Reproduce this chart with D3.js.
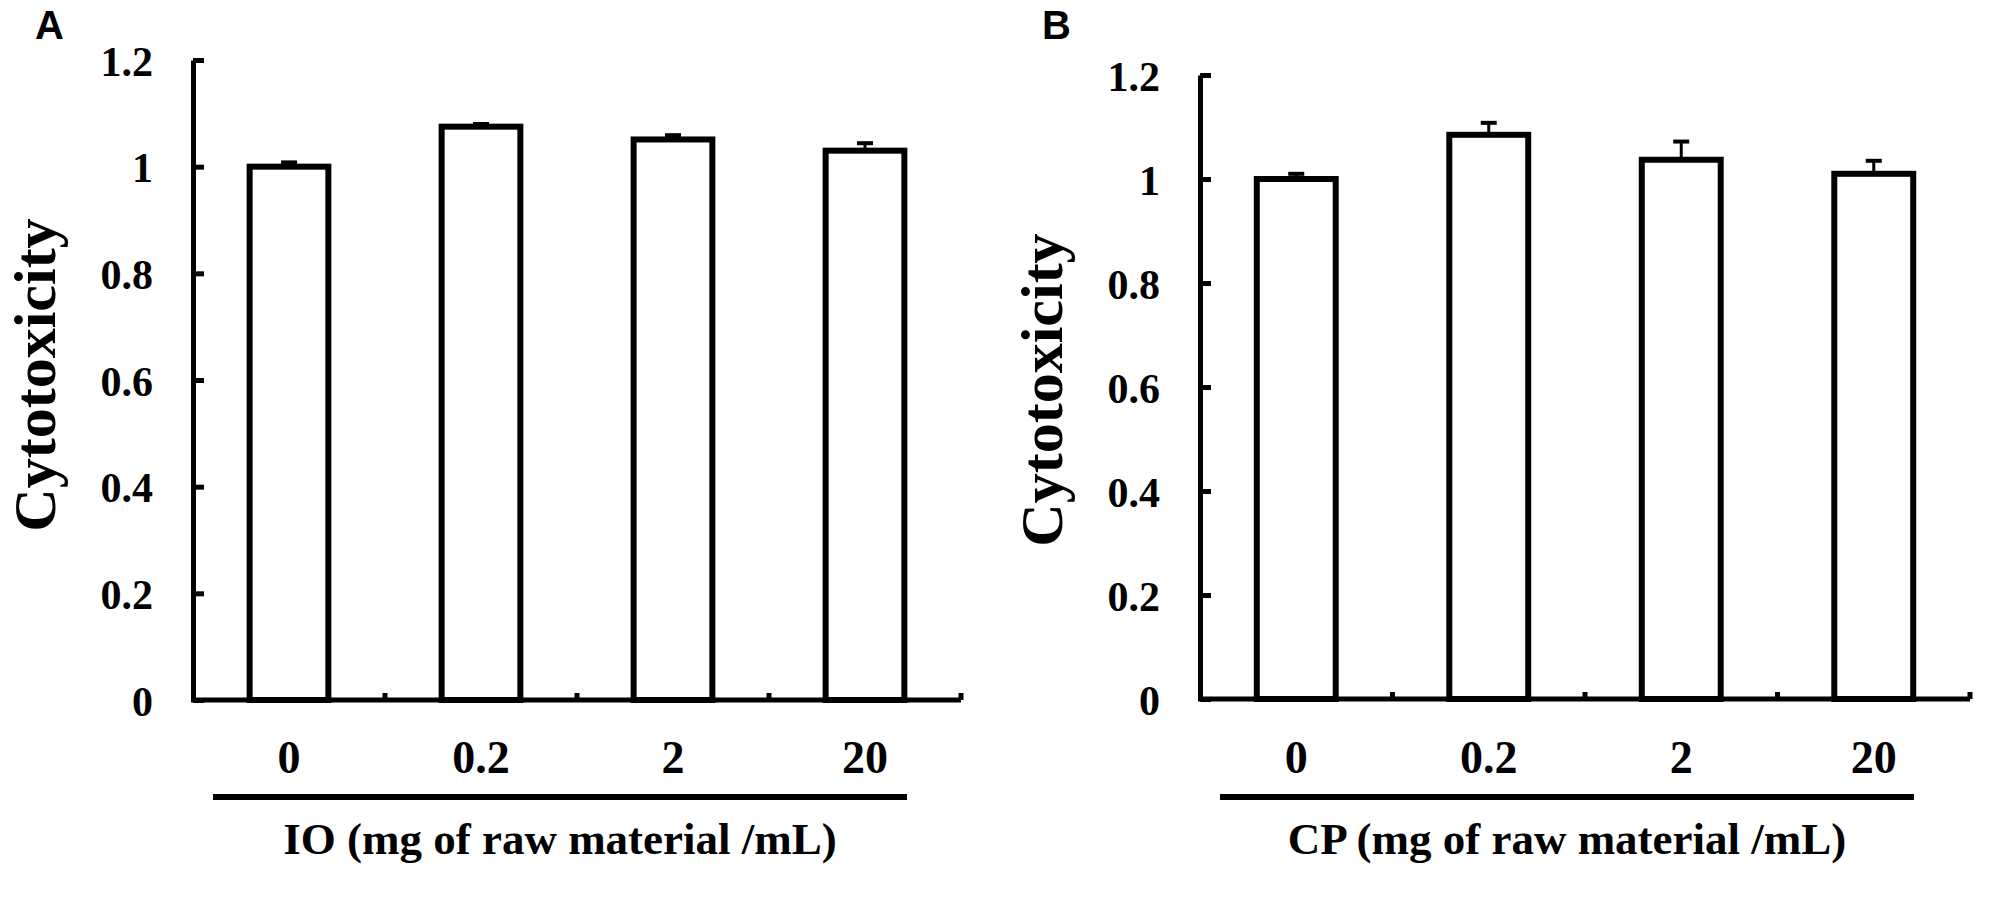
<!DOCTYPE html>
<html>
<head>
<meta charset="utf-8">
<script src="https://cdn.jsdelivr.net/npm/d3@7"></script>
<style>
  body { margin: 0; background: #fff; }
  text { font-family: "Liberation Serif", "Times New Roman", serif; font-weight: bold; fill: #000; }
</style>
</head>
<body>
<svg id="fig" width="1991" height="897"></svg>
<script>
// values
var doses = ["0", "0.2", "2", "20"];
var ioMeans = [1.0, 1.075, 1.051, 1.030];
var ioErr = [0.008, 0.005, 0.008, 0.014];
var cpMeans = [1.0, 1.085, 1.037, 1.010];
var cpErr = [0.010, 0.023, 0.035, 0.025];
var yTicks = [0, 0.2, 0.4, 0.6, 0.8, 1, 1.2];

var svg = d3.select("#fig");

// one panel = one bar chart, placed by its axis corner
function drawPanel(letter, means, errs, title, box) {
    var x = d3.scaleBand().domain(doses)
        .range([box.x0, box.x1]).paddingInner(0.59).paddingOuter(0.295);
    var y = d3.scaleLinear().domain([0, 1.2]).range([box.y0, box.yTop]);
    var rows = doses.map(function(d, i) { return {dose: d, m: means[i], e: errs[i]}; });
    var g = svg.append("g");

    g.append("text").attr("x", box.x0 - 158).attr("y", 39)
        .style("font-family", "'Liberation Sans', Arial, sans-serif")
        .style("font-size", "40px").text(letter);

    // bars
    g.selectAll("rect.bar").data(rows).enter().append("rect")
        .attr("class", "bar")
        .attr("x", function(d) { return x(d.dose); })
        .attr("y", function(d) { return y(d.m); })
        .attr("width", x.bandwidth())
        .attr("height", function(d) { return y(0) - y(d.m); })
        .style("fill", "#fff").style("stroke", "#000").style("stroke-width", 6);

    // error bars, upper half only
    var eb = g.selectAll("g.err").data(rows).enter().append("g").attr("class", "err");
    eb.append("line")
        .attr("x1", function(d) { return x(d.dose) + x.bandwidth() / 2; })
        .attr("x2", function(d) { return x(d.dose) + x.bandwidth() / 2; })
        .attr("y1", function(d) { return y(d.m); })
        .attr("y2", function(d) { return y(d.m + d.e); })
        .style("stroke", "#000").style("stroke-width", 3);
    eb.append("line")
        .attr("x1", function(d) { return x(d.dose) + x.bandwidth() / 2 - 8; })
        .attr("x2", function(d) { return x(d.dose) + x.bandwidth() / 2 + 8; })
        .attr("y1", function(d) { return y(d.m + d.e); })
        .attr("y2", function(d) { return y(d.m + d.e); })
        .style("stroke", "#000").style("stroke-width", 4);

    // y axis, ticks pointing in
    var ya = g.append("g").attr("transform", "translate(" + box.x0 + ",0)")
        .call(d3.axisLeft(y).tickValues(yTicks).tickSize(-11).tickSizeOuter(0)
            .tickPadding(40).tickFormat(function(d) { return String(d); }));
    ya.select(".domain").style("stroke-width", 5);
    ya.selectAll(".tick line").style("stroke-width", 5);
    ya.selectAll(".tick text").style("font-size", "42px")
        .style("font-family", "'Liberation Serif', 'Times New Roman', serif")
        .attr("dy", "0.36em");

    // x axis: line with small ticks between categories
    g.append("line").attr("x1", box.x0 - 2).attr("x2", box.x1)
        .attr("y1", y(0)).attr("y2", y(0))
        .style("stroke", "#000").style("stroke-width", 5);
    g.selectAll("line.xt").data(doses).enter().append("line")
        .attr("class", "xt")
        .attr("x1", function(d) { return x(d) + x.bandwidth() + (x.step() - x.bandwidth()) / 2; })
        .attr("x2", function(d) { return x(d) + x.bandwidth() + (x.step() - x.bandwidth()) / 2; })
        .attr("y1", y(0)).attr("y2", y(0) - 7)
        .style("stroke", "#000").style("stroke-width", 5);

    g.selectAll("text.dose").data(doses).enter().append("text")
        .attr("class", "dose")
        .attr("x", function(d) { return x(d) + x.bandwidth() / 2; })
        .attr("y", 773).attr("text-anchor", "middle")
        .style("font-size", "46px").text(function(d) { return d; });

    var mid = box.x0 + 367;
    g.append("line").attr("x1", mid - 347).attr("x2", mid + 347)
        .attr("y1", 797).attr("y2", 797)
        .style("stroke", "#000").style("stroke-width", 6);
    g.append("text").attr("x", mid).attr("y", 854).attr("text-anchor", "middle")
        .style("font-size", "45px").text(title);

    g.append("text")
        .attr("transform", "translate(" + (box.x0 - 138) + "," + (box.yTop + 315) + ") rotate(-90)")
        .attr("text-anchor", "middle")
        .style("font-size", "60px").text("Cytotoxicity");
}

drawPanel("A", ioMeans, ioErr, "IO (mg of raw material /mL)",
    {x0: 193, x1: 961, y0: 700, yTop: 60});
drawPanel("B", cpMeans, cpErr, "CP (mg of raw material /mL)",
    {x0: 1200, x1: 1970, y0: 699, yTop: 75});
</script>
</body>
</html>
